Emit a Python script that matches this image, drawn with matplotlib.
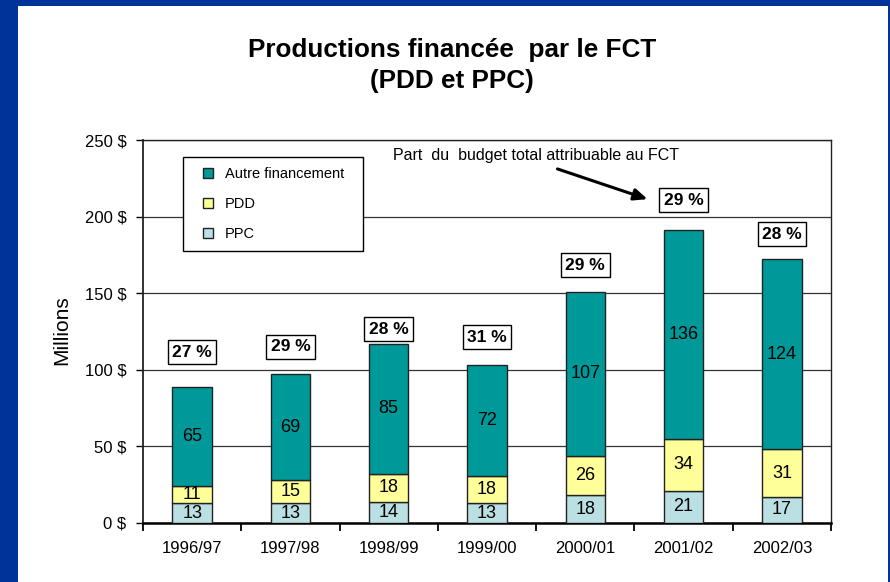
import matplotlib
matplotlib.use('Agg')
import matplotlib.pyplot as plt
from matplotlib.patches import Rectangle
from matplotlib.lines import Line2D

plt.rcParams['font.family'] = ['Liberation Sans', 'DejaVu Sans']

years = ['1996/97', '1997/98', '1998/99', '1999/00', '2000/01', '2001/02', '2002/03']
ppc = [13, 13, 14, 13, 18, 21, 17]
pdd = [11, 15, 18, 18, 26, 34, 31]
autre = [65, 69, 85, 72, 107, 136, 124]
part_fct = ['27 %', '29 %', '28 %', '31 %', '29 %', '29 %', '28 %']
y_ticks = [0, 50, 100, 150, 200, 250]

# how far above each bar the percent box sits (data units)
pct_offset = [22.6, 17.9, 9.6, 18.4, 17.4, 19.8, 16.6]

c_autre = '#009999'
c_pdd = '#FFFF99'
c_ppc = '#BBE0E3'
edge = '#222222'

fig = plt.figure(figsize=(8.9, 5.82), dpi=100, facecolor='#003399')
fig.patches.append(Rectangle((18 / 890, 0), 870 / 890, 576 / 582, transform=fig.transFigure,
                             facecolor='white', edgecolor='none', zorder=-10))

ax = fig.add_axes([143 / 890, 59 / 582, 688 / 890, 383 / 582])
x = list(range(len(years)))
w = 0.4

bottom2 = [a + b for a, b in zip(ppc, pdd)]
totals = [a + b + c for a, b, c in zip(ppc, pdd, autre)]

ax.bar(x, ppc, w, color=c_ppc, edgecolor=edge, linewidth=1, zorder=3)
ax.bar(x, pdd, w, bottom=ppc, color=c_pdd, edgecolor=edge, linewidth=1, zorder=3)
ax.bar(x, autre, w, bottom=bottom2, color=c_autre, edgecolor=edge, linewidth=1, zorder=3)

for i in x:
    ax.text(i, ppc[i] / 2, str(ppc[i]), ha='center', va='center', fontsize=13, zorder=4)
    ax.text(i, ppc[i] + pdd[i] / 2, str(pdd[i]), ha='center', va='center', fontsize=13, zorder=4)
    ax.text(i, bottom2[i] + autre[i] / 2, str(autre[i]), ha='center', va='center', fontsize=13, zorder=4)
    ax.text(i, totals[i] + pct_offset[i], part_fct[i], ha='center', va='center', fontsize=12.5,
            fontweight='bold', zorder=5,
            bbox=dict(boxstyle='square,pad=0.25', fc='white', ec='black', lw=1))

ax.set_xlim(-0.5, len(years) - 0.5)
ax.set_ylim(0, 250)
ax.set_yticks(y_ticks)
ax.set_yticklabels([f'{v} $' for v in y_ticks])
ax.set_xticks(x)
ax.set_xticklabels(years)
ax.set_xticks([i - 0.5 for i in range(len(years) + 1)], minor=True)
ax.tick_params(axis='x', which='major', length=0, pad=13, labelsize=12)
ax.tick_params(axis='x', which='minor', length=6, width=1.3, direction='out')
ax.tick_params(axis='y', length=5, width=1, direction='out', pad=7, labelsize=12)

ax.yaxis.grid(True, color='#333333', linewidth=0.9, zorder=0)
ax.set_axisbelow(True)
for s in ['top', 'right', 'left']:
    ax.spines[s].set_linewidth(1.0)
    ax.spines[s].set_color('#222222')
ax.spines['left'].set_linewidth(1.3)
ax.spines['bottom'].set_linewidth(1.8)

fig.text(62 / 890, 1 - 330 / 582, 'Millions', rotation=90, ha='center', va='center', fontsize=15)

fig.text(452 / 890, 1 - 57 / 582, 'Productions financée  par le FCT', ha='center', va='baseline',
         fontsize=18.8, fontweight='bold')
fig.text(452 / 890, 1 - 88 / 582, '(PDD et PPC)', ha='center', va='baseline',
         fontsize=18.8, fontweight='bold')

# annotation arrow
ax.annotate('', xy=(4.66, 210.8), xytext=(3.69, 231.7),
            arrowprops=dict(arrowstyle='-|>,head_length=0.8,head_width=0.35', color='black', lw=2.2),
            zorder=6)
ax.text(2.04, 240, 'Part  du  budget total attribuable au FCT', ha='left', va='center', fontsize=11.5)

handles = [Line2D([], [], marker='s', linestyle='none', markersize=7, markerfacecolor=c,
                  markeredgecolor=edge, markeredgewidth=1)
           for c in [c_autre, c_pdd, c_ppc]]
leg = ax.legend(handles, ['Autre financement  ', 'PDD', 'PPC'], loc='upper left',
                bbox_to_anchor=(0.058, 0.956), borderaxespad=0, fontsize=10.5,
                handlelength=2.0, handletextpad=0.2, borderpad=0.7, labelspacing=1.1,
                fancybox=False, framealpha=1, edgecolor='black')
leg.get_frame().set_linewidth(1)
leg.set_zorder(7)

fig.savefig('out.png', dpi=100, facecolor=fig.get_facecolor())
